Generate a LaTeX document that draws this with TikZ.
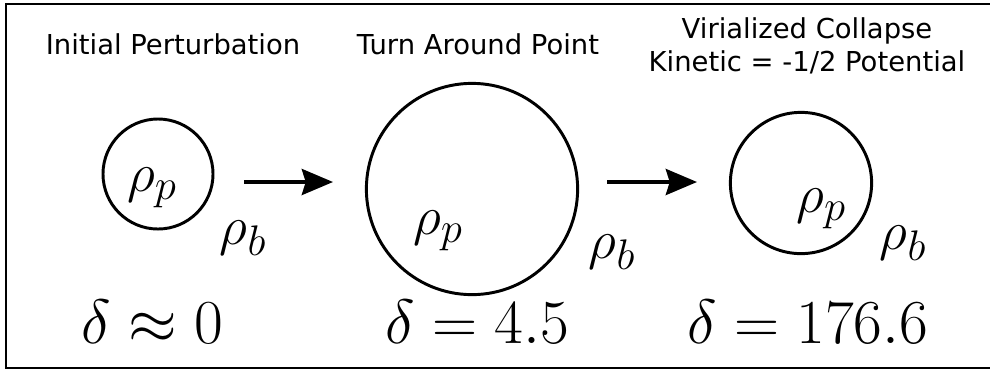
\documentclass[tikz,border=0pt]{standalone}
\usepackage{fix-cm}
\usepackage{fontspec}
\newfontfamily\labelfont{DejaVu Sans}
\def\defaultscriptratio{.78}
\usetikzlibrary{positioning, arrows.meta}

\begin{document}
\begin{tikzpicture}[x=0.025cm, y=-0.025cm,
  stage/.style={draw, circle, line width=2.1pt, inner sep=0pt},
  title/.style={align=center, inner sep=0pt, font=\labelfont\fontsize{19.5}{23}\selectfont},
  dens/.style={inner sep=0pt, font=\fontsize{39}{44}\selectfont},
  contrast/.style={anchor=base, inner sep=0pt, font=\fontsize{44.5}{48}\selectfont},
  flow/.style={-{Stealth[length=0.78cm, width=0.65cm, inset=0.1cm]}, line width=2.8pt}]
\useasboundingbox (0,0) rectangle (990,370);
\draw[line width=1.4pt] (992,4) -- (6,4) -- (6,368) -- (992,368);
% titles
\node[title] (T1) at (173,44) {Initial Perturbation};
\node[title] (T2) at (478,44) {Turn Around Point};
\node[title] (T3) at (807,46) {Virialized Collapse\\Kinetic = -1/2 Potential};
% the three stages
\node[stage, minimum size=2.75cm] (C1) at (158,174) {};
\node[stage, minimum size=5.28cm] (C2) at (472,189) {};
\node[stage, minimum size=3.53cm] (C3) at (801,183) {};
\node[dens] (P1) at (152,188) {$\rho_p$};
\node[dens] (B1) at (243,238) {$\rho_b$};
\node[dens] (P2) at (438,231) {$\rho_p$};
\node[dens] (B2) at (612,252) {$\rho_b$};
\node[dens] (P3) at (821,209) {$\rho_p$};
\node[dens] (B3) at (903,243) {$\rho_b$};
\node[contrast] (D1) at (152,343) {$\delta \approx 0$};
\node[contrast] (D2) at (477,343) {$\delta = 4.5$};
\node[contrast] (D3) at (808,343) {$\delta = 176.6$};
% arrows
\coordinate (A1) at (244,182);
\coordinate (A2) at (333,182);
\coordinate (A3) at (607,182);
\coordinate (A4) at (697,182);
\draw[flow] (A1) -- (A2);
\draw[flow] (A3) -- (A4);
\end{tikzpicture}
\end{document}
